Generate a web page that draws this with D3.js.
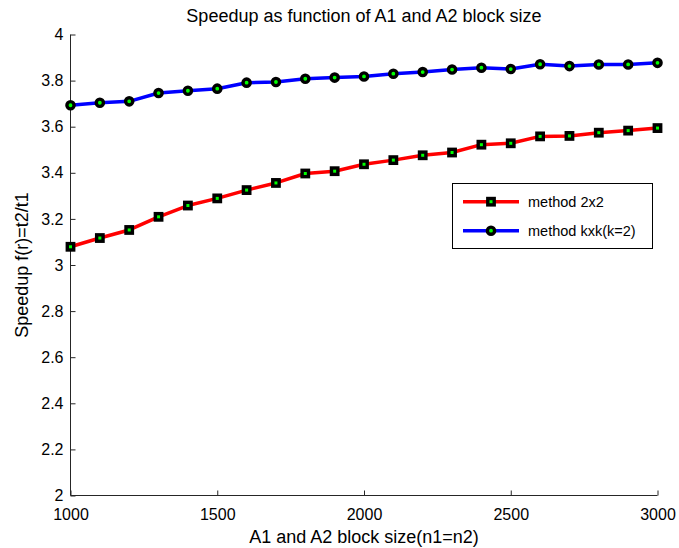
<!DOCTYPE html>
<html>
<head>
<meta charset="utf-8">
<script src="https://d3js.org/d3.v7.min.js"></script>
<style>
  html, body { margin: 0; padding: 0; background: #ffffff; }
  svg { display: block; }
  text { font-family: "Liberation Sans", Arial, Helvetica, sans-serif; fill: #000; }
</style>
</head>
<body>
<script>
// ---- data ----
const blockSizes = [1000, 1100, 1200, 1300, 1400, 1500, 1600, 1700, 1800, 1900, 2000,
                    2100, 2200, 2300, 2400, 2500, 2600, 2700, 2800, 2900, 3000];
const method2x2 = [3.079, 3.117, 3.152, 3.209, 3.258, 3.289, 3.325, 3.356, 3.397, 3.407, 3.437,
                   3.455, 3.476, 3.488, 3.522, 3.528, 3.558, 3.560, 3.574, 3.583, 3.594];
const methodKxK = [3.693, 3.704, 3.710, 3.746, 3.756, 3.765, 3.791, 3.794, 3.808, 3.813, 3.818,
                   3.830, 3.837, 3.848, 3.856, 3.850, 3.871, 3.863, 3.870, 3.870, 3.877];
const xTicks = [1000, 1500, 2000, 2500, 3000];
const yTicks = [2, 2.2, 2.4, 2.6, 2.8, 3, 3.2, 3.4, 3.6, 3.8, 4];
const seriesNames = ["method 2x2", "method kxk(k=2)"];
const titleText = "Speedup as function of A1 and A2 block size";
const xLabelText = "A1 and A2 block size(n1=n2)";
const yLabelText = "Speedup f(r)=t2/t1";

const W = 679, H = 548;
const svg = d3.select("body").append("svg").attr("width", W).attr("height", H);
svg.append("rect").attr("width", W).attr("height", H).attr("fill", "#fff");

const x = d3.scaleLinear().domain([1000, 3000]).range([70.5, 657.5]);
const y = d3.scaleLinear().domain([2, 4]).range([495.5, 34.5]);

// axes
const xAxis = d3.axisBottom(x).tickValues(xTicks).tickSize(-5).tickPadding(13)
  .tickFormat(d3.format("d"));
const yAxis = d3.axisLeft(y).tickValues(yTicks).tickSize(-5).tickPadding(7)
  .tickFormat(d => d3.format("")(+d.toFixed(1)));

const gx = svg.append("g").attr("transform", `translate(0,${y(2)})`).call(xAxis);
const gy = svg.append("g").attr("transform", `translate(${x(1000)},0)`).call(yAxis);
[gx, gy].forEach(g => {
  g.select(".domain").attr("stroke", "#262626").attr("stroke-width", 1);
  g.selectAll(".tick line").attr("stroke", "#262626").attr("stroke-width", 1);
  g.selectAll(".tick text").attr("font-size", 16).attr("fill", "#000")
    .attr("font-family", '"Liberation Sans", Arial, sans-serif');
});
// d3 axis domain path includes outer ticks with tickSizeOuter; fix to plain lines
gx.select(".domain").attr("d", `M${x(1000)},0H${x(3000)}`);
gy.select(".domain").attr("d", `M0,${y(2)}V${y(4)}`);

// lines
const line = d3.line().x((d, i) => x(blockSizes[i])).y(d => y(d));
const colors = ["#ff0000", "#0000ff"];
const datasets = [method2x2, methodKxK];

datasets.forEach((data, si) => {
  svg.append("path").datum(data).attr("d", line)
    .attr("fill", "none").attr("stroke", colors[si]).attr("stroke-width", 3.5)
    .attr("stroke-linejoin", "round");
});

function drawMarker(g, cx, cy, type) {
  if (type === 0) {
    g.append("rect").attr("x", cx - 3.2).attr("y", cy - 3.2).attr("width", 6.4).attr("height", 6.4)
      .attr("fill", "#00ff00").attr("stroke", "#000").attr("stroke-width", 3.4);
  } else {
    g.append("circle").attr("cx", cx).attr("cy", cy).attr("r", 3.6)
      .attr("fill", "#00ff00").attr("stroke", "#000").attr("stroke-width", 3.4);
  }
}

datasets.forEach((data, si) => {
  const g = svg.append("g");
  data.forEach((d, i) => drawMarker(g, x(blockSizes[i]), y(d), si));
});

// title and labels
svg.append("text").attr("x", (x(1000) + x(3000)) / 2).attr("y", 21.5)
  .attr("text-anchor", "middle").attr("font-size", 18).text(titleText);
svg.append("text").attr("x", (x(1000) + x(3000)) / 2).attr("y", 543)
  .attr("text-anchor", "middle").attr("font-size", 18).text(xLabelText);
svg.append("text").attr("transform", `translate(28,${(y(2) + y(4)) / 2}) rotate(-90)`)
  .attr("text-anchor", "middle").attr("font-size", 18).text(yLabelText);

// legend
const leg = svg.append("g");
leg.append("rect").attr("x", 452.5).attr("y", 183.5).attr("width", 200).attr("height", 65)
  .attr("fill", "#fff").attr("stroke", "#000").attr("stroke-width", 1);
const rowsY = [201.7, 230.7];
seriesNames.forEach((name, si) => {
  leg.append("line").attr("x1", 463).attr("x2", 519).attr("y1", rowsY[si]).attr("y2", rowsY[si])
    .attr("stroke", colors[si]).attr("stroke-width", 3.5);
  drawMarker(leg, 491, rowsY[si], si);
  leg.append("text").attr("x", 528).attr("y", rowsY[si] + 5.2).attr("font-size", 14.5).text(name);
});
</script>
</body>
</html>
